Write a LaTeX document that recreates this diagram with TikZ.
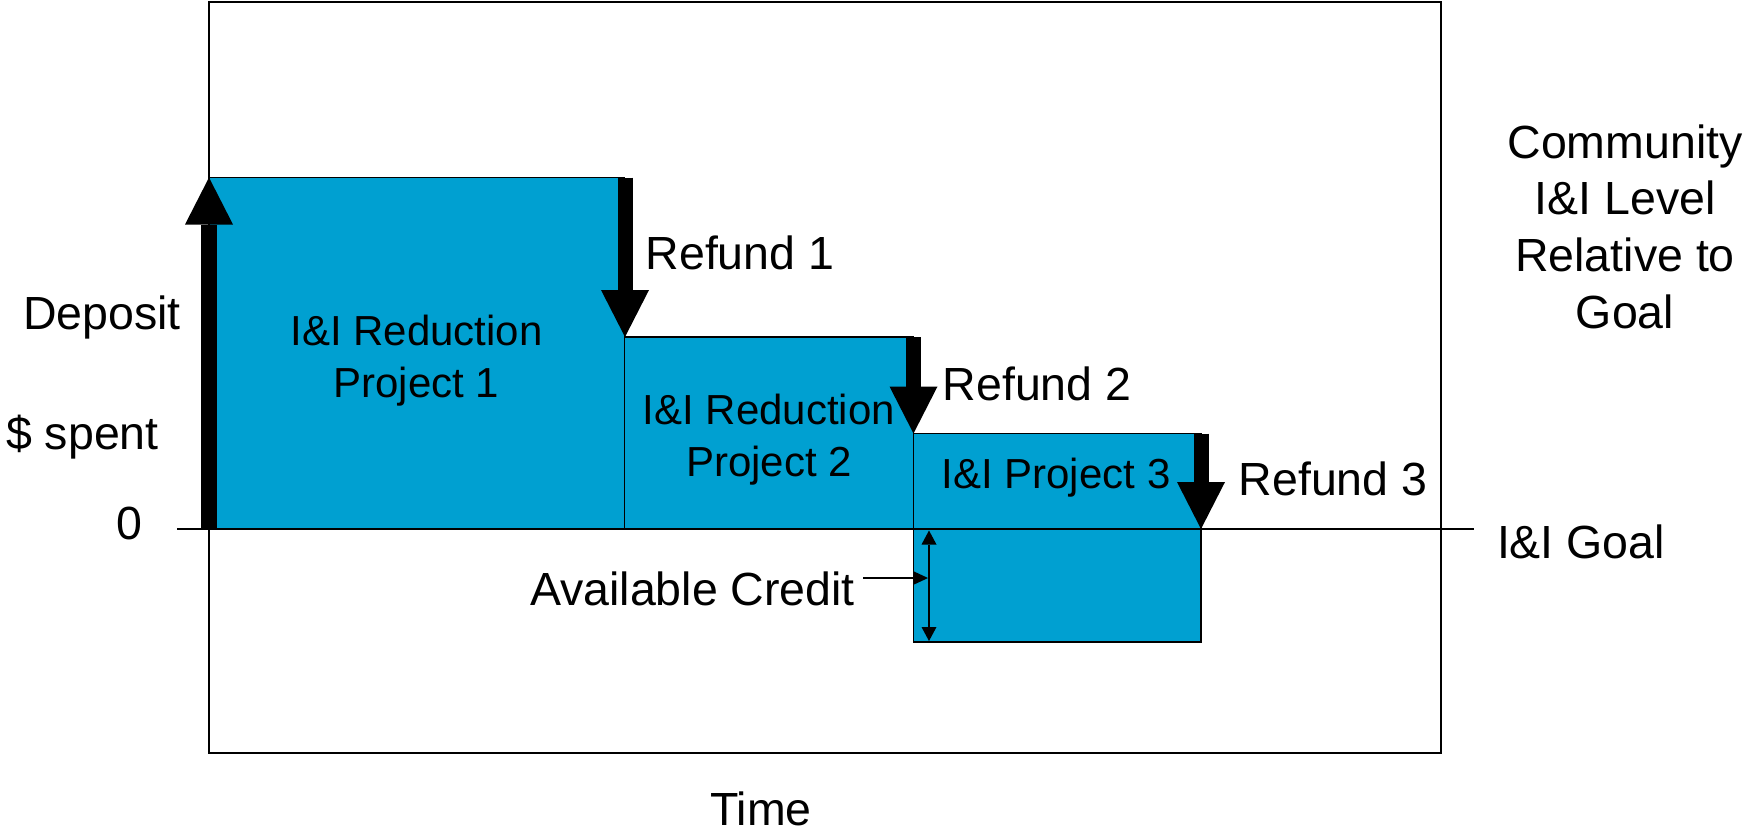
\documentclass[tikz,border=0pt]{standalone}
\usepackage{fontspec}
\setmainfont{Liberation Sans}
\usetikzlibrary{arrows.meta}
\definecolor{stageblue}{RGB}{0,160,209}
\begin{document}
\begin{tikzpicture}[x=0.5pt,y=-0.5pt,
  lbl/.style={anchor=base, inner sep=0pt, align=center,
    font=\fontsize{23.25}{28.3}\selectfont},
  boxlbl/.style={anchor=base, inner sep=0pt, align=center,
    font=\fontsize{21}{26}\selectfont},
  frame/.style={draw=black, line width=0.9pt},
  stage/.style={fill=stageblue, draw=black, line width=0.8pt},
  axis/.style={draw=black, line width=0.8pt},
  block/.style={line width=7.5pt,
    -{Triangle[width=24pt,length=23.5pt,line width=0pt]}},
  pointer/.style={line width=1pt,
    -{Triangle[width=7pt,length=7.5pt,line width=0pt]}},
  span/.style={line width=1pt,
    {Triangle[width=7.5pt,length=7pt,line width=0pt]}-{Triangle[width=7.5pt,length=7pt,line width=0pt]}}]

\useasboundingbox (0,0) rectangle (1752,832);

% outer frame
\coordinate (f1) at (209,2);
\coordinate (f2) at (1441,753);
\draw[frame] (f1) rectangle (f2);

% corner points of the stages
\coordinate (s1a) at (209,177.5);
\coordinate (s1b) at (624.5,529);
\coordinate (s2a) at (624.5,337);
\coordinate (s2b) at (913.5,529);
\coordinate (s3a) at (913.5,433.5);
\coordinate (s3b) at (1201,529);
\coordinate (cra) at (913.5,529);
\coordinate (crb) at (1201,642);

\draw[stage] (s1a) rectangle (s1b);
\draw[stage] (s2a) rectangle (s2b);
\draw[stage] (s3a) rectangle (s3b);
\draw[stage] (cra) rectangle (crb);

% goal / zero line
\coordinate (z0) at (177,529);
\coordinate (z1) at (1474,529);
\draw[axis] (z0) -- (z1);

% deposit and refund arrows
\coordinate (dep0) at (209,529);
\coordinate (dep1) at (209,177.5);
\draw[block, line width=8pt] (dep0) -- (dep1);

\coordinate (r1a) at (625,177.5);
\coordinate (r1b) at (625,337);
\draw[block] (r1a) -- (r1b);

\coordinate (r2a) at (913.5,337);
\coordinate (r2b) at (913.5,433.5);
\draw[block] (r2a) -- (r2b);

\coordinate (r3a) at (1201,433.5);
\coordinate (r3b) at (1201,529);
\draw[block] (r3a) -- (r3b);

% available credit span
\coordinate (sp0) at (929,530.5);
\coordinate (sp1) at (929,641);
\draw[span] (sp0) -- (sp1);

% labels (multi-line labels sit on the baseline of their last line)
\node[lbl] (deposit) at (102,329) {Deposit};
\node[lbl] (spent) at (82.5,449) {\$ spent};
\node[lbl] (zero) at (129.5,539) {0};
\node[lbl] (time) at (761,825) {Time};
\node[lbl] (goal) at (1581,558) {I\&I Goal};
\node[lbl] (level) at (1625,328) {Community\\I\&I Level\\Relative to\\Goal};
\node[lbl] (ref1) at (740,269) {Refund 1};
\node[lbl] (ref2) at (1037,400) {Refund 2};
\node[lbl] (ref3) at (1333,495) {Refund 3};
\node[lbl] (credit) at (692.5,605) {Available Credit};

\node[boxlbl] (p1) at (416.5,397) {I\&I Reduction\\Project 1};
\node[boxlbl] (p2) at (769,476) {I\&I Reduction\\Project 2};
\node[boxlbl] (p3) at (1056,488) {I\&I Project 3};

% pointer from the credit label to the span
\coordinate (cr) at (928,578);
\draw[pointer] (credit.east |- cr) ++(8,0) -- (cr);

\end{tikzpicture}
\end{document}
